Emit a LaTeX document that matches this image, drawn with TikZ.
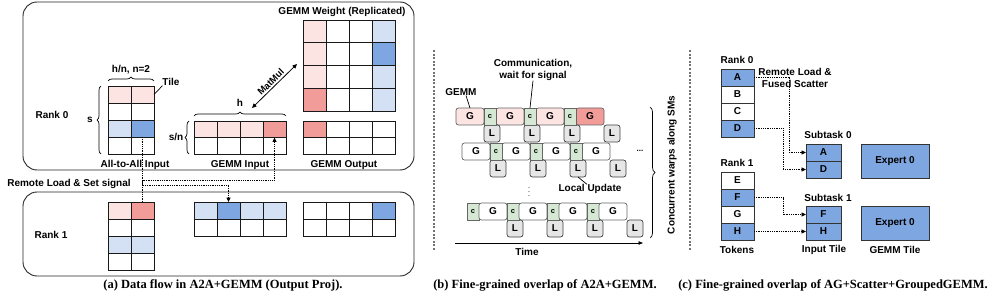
\documentclass[tikz,border=0pt]{standalone}
\usepackage{fontspec}
\setmainfont{Liberation Serif}
\setsansfont{Liberation Sans}
\usetikzlibrary{arrows.meta,decorations.pathreplacing}
\definecolor{pinkL}{HTML}{FCE4E3}
\definecolor{redM}{HTML}{F19C99}
\definecolor{blueL}{HTML}{D4E1F5}
\definecolor{blueM}{HTML}{7EA6E0}
\definecolor{greenL}{HTML}{D5E8D4}
\definecolor{grayL}{HTML}{E6E6E6}
\newcommand\setcf[2]{\expandafter\def\csname cf-#1\endcsname{#2}}
\tikzset{cf/.code={\ifcsname cf-#1\endcsname\edef\cftmp{\noexpand\pgfkeysalso{fill=\csname cf-#1\endcsname}}\cftmp\else\pgfkeysalso{fill=white}\fi}}
\newcommand\mkgrid[7]{%
  \foreach \r in {1,...,#5}{\foreach \c in {1,...,#4}{%
    \node[cell, minimum width=#6pt, minimum height=#7pt, cf={#1-\r-\c}] (#1-\r-\c) at ({#2+(\c-1)*#6},{#3+(\r-1)*#7}) {};
  }}}
% fills
\setcf{A0-1-1}{pinkL}\setcf{A0-1-2}{pinkL}\setcf{A0-3-1}{blueL}\setcf{A0-3-2}{blueM}
\setcf{I0-1-1}{pinkL}\setcf{I0-1-2}{pinkL}\setcf{I0-1-3}{pinkL}\setcf{I0-1-4}{redM}
\setcf{W-1-1}{pinkL}\setcf{W-2-1}{pinkL}\setcf{W-3-1}{pinkL}\setcf{W-4-1}{redM}
\setcf{W-1-4}{blueL}\setcf{W-2-4}{blueM}\setcf{W-3-4}{blueL}\setcf{W-4-4}{blueL}
\setcf{O0-1-1}{redM}
\setcf{A1-1-1}{pinkL}\setcf{A1-1-2}{redM}\setcf{A1-3-1}{blueL}\setcf{A1-3-2}{blueL}
\setcf{I1-1-1}{blueL}\setcf{I1-1-2}{blueM}\setcf{I1-1-3}{blueL}\setcf{I1-1-4}{blueL}
\setcf{O1-1-4}{blueM}
\begin{document}
\begin{tikzpicture}[x=1pt,y=-1pt,
  every node/.style={font=\sffamily\bfseries\fontsize{10}{12}\selectfont, inner sep=0pt, outer sep=0pt},
  cell/.style={draw=black!90, line width=0.7pt, anchor=north west},
  rankbox/.style={draw=black!85, line width=0.9pt, rounded corners=14pt, anchor=north west, minimum width=391pt},
  conn/.style={line width=0.8pt, dash pattern=on 0.9pt off 0.9pt, -{Triangle[length=4.5pt,width=4pt]}},
  dbl/.style={line width=0.8pt, {Triangle[length=4.5pt,width=4pt]}-{Triangle[length=4.5pt,width=4pt]}},
  brc/.style={decorate, decoration={brace, amplitude=4pt}, line width=0.7pt},
  gb/.style={draw=black!60, line width=0.7pt, rounded corners=2.5pt, minimum width=28pt, minimum height=17pt, anchor=north west},
  cb/.style={draw=black!60, line width=0.7pt, fill=greenL, minimum width=12pt, minimum height=17pt, anchor=north west, font=\sffamily\bfseries\fontsize{7.5}{9}\selectfont},
  lb/.style={draw=black!75, line width=0.7pt, fill=grayL, rounded corners=2.5pt, minimum width=16pt, minimum height=17pt, anchor=north west},
  tok/.style={draw=black!80, line width=0.7pt, minimum width=33pt, minimum height=17pt, anchor=north west},
  itile/.style={draw=black!80, line width=0.7pt, fill=blueM, minimum width=35pt, minimum height=17pt, anchor=north west},
  expert/.style={draw=black!80, line width=0.7pt, fill=blueM, minimum width=68pt, minimum height=34pt, anchor=north west},
  sepline/.style={draw=black!55, line width=1.6pt, dash pattern=on 2pt off 1.6pt},
  captxt/.style={font=\rmfamily\bfseries\fontsize{12.5}{14}\selectfont},
  lin/.style={line width=0.7pt}]
\useasboundingbox (0,0) rectangle (996,294);

%% ---------------- panel (a)
\node[rankbox, minimum height=168pt] (rank0box) at (23,2) {};
\node[rankbox, minimum height=84pt] (rank1box) at (23,192) {};
\node (r0lab) at (52,115) {Rank 0};
\node (r1lab) at (51,235) {Rank 1};

\mkgrid{A0}{108}{86}{2}{4}{23}{17}
\mkgrid{I0}{194}{121}{4}{2}{23}{16.5}
\mkgrid{W}{303}{20}{4}{4}{23}{22.75}
\mkgrid{O0}{303}{121}{4}{2}{23}{16.5}
\mkgrid{A1}{108}{202}{2}{4}{23}{17}
\mkgrid{I1}{194}{202}{4}{2}{23}{17}
\mkgrid{O1}{303}{202}{4}{2}{23}{17}

% braces
\draw[brc] ([yshift=5pt]A0-1-1.north west) -- ([yshift=5pt]A0-1-2.north east);
\node (hnlab) at (131,70) {h/n, n=2};
\draw[brc] ([xshift=-7pt]A0-4-1.south west) -- ([xshift=-7pt]A0-1-1.north west);
\node (slab) at (90,120) {s};
\draw[brc] ([xshift=-5pt]I0-2-1.south west) -- ([xshift=-5pt]I0-1-1.north west);
\node (snlab) at (176,137) {s/n};
\draw[brc] ([yshift=5pt]I0-1-1.north west) -- ([yshift=5pt]I0-1-4.north east);
\node (hlab) at (240,103) {h};

\node (tilelab) at (171,82) {Tile};
\draw[lin] (A0-1-2.east) -- (tilelab.south west);

\node (wlab) at (342,12) {GEMM Weight (Replicated)};
\node (a2alab) at (135,165) {All-to-All Input};
\node (ginlab) at (240,165) {GEMM Input};
\node (goutlab) at (344,165) {GEMM Output};

\coordinate (mmA) at (252,108);
\coordinate (mmB) at (297,64);
\draw[dbl] (mmA) -- node[sloped, above=2pt, font=\sffamily\bfseries\fontsize{9.5}{11}\selectfont] (mmlab) {MatMul} (mmB);

\draw[conn] (A0-3-2.south) -- ++(0,48) -| (I1-1-2.north);
\draw[conn] (A1-1-2.north) -- ++(0,-22) -| (I0-1-4.south);
\node (rlslab) at (69,184) {Remote Load \& Set signal};

\node[captxt] (capa) at (223,285) {(a) Data flow in A2A+GEMM (Output Proj).};

%% ---------------- panel (b)
\draw[sepline] (434,50) -- (434,250);
\draw[sepline] (690,50) -- (690,250);

\foreach \k in {1,...,4}{
  \ifnum\k=4 \def\gf{redM}\else\def\gf{pinkL}\fi
  \node[gb, fill=\gf] (g1-\k) at ({456+40*(\k-1)},108) {G};
  \node[lb] (l1-\k) at ({484+40*(\k-1)},125) {L};
  \node[gb, fill=white] (g2-\k) at ({462+40*(\k-1)},143) {G};
  \node[lb] (l2-\k) at ({490+40*(\k-1)},160) {L};
  \node[cb] (c3-\k) at ({467+40*(\k-1)},203) {c};
  \node[gb, fill=white] (g3-\k) at ({479+40*(\k-1)},203) {G};
  \node[lb] (l3-\k) at ({507+40*(\k-1)},220) {L};
}
\foreach \k in {1,...,3}{
  \node[cb] (c1-\k) at ({484+40*(\k-1)},108) {c};
  \node[cb] (c2-\k) at ({490+40*(\k-1)},143) {c};
}
\node (gemmlab) at (461,92) {GEMM};
\draw[lin] ([xshift=5pt]gemmlab.south) -- (g1-1.north);
\node[align=center] (commlab) at (533,70) {Communication,\\wait for signal};
\draw[lin] (commlab.south) -- (c1-2.north);
\node[font=\sffamily\bfseries\fontsize{8}{9}\selectfont] (dotsh) at (640,151) {...};
\node[font=\fontsize{8}{9}\selectfont] (dotsv) at (529,189) {$\vdots$};
\node (luplab) at (590,189) {Local Update};
\draw[lin] (l2-3.south) -- ([xshift=-3pt]luplab.north);

\coordinate (tA) at (455,243);
\coordinate (tB) at (643,243);
\draw[line width=0.8pt, -{Triangle[length=4.5pt,width=3.5pt]}] (tA) -- (tB);
\node (timelab) at (527,252) {Time};

\coordinate (bt) at (650,107);
\coordinate (bb) at (650,238);
\draw[brc, decoration={brace, amplitude=5pt}] (bt) -- (bb);
\node[rotate=90] (cwlab) at (672,165) {Concurrent warps along SMs};

\node[captxt] (capb) at (545,285) {(b) Fine-grained overlap of A2A+GEMM.};

%% ---------------- panel (c)
\node (rc0lab) at (737,60) {Rank 0};
\foreach \t/\f [count=\i] in {A/blueM,B/white,C/white,D/blueM}{
  \node[tok, fill=\f] (T0-\i) at (721,{69+17*(\i-1)}) {\t};
}
\node (rc1lab) at (737,163) {Rank 1};
\foreach \t/\f [count=\i] in {E/white,F/blueM,G/white,H/blueM}{
  \node[tok, fill=\f] (T1-\i) at (721,{172+17*(\i-1)}) {\t};
}
\node (toklab) at (737,250) {Tokens};

\node (st0lab) at (828,135) {Subtask 0};
\node[itile] (S0-1) at (806,144) {A};
\node[itile] (S0-2) at (806,161) {D};
\node[expert] (E0) at (861,144) {Expert 0};
\node (st1lab) at (828,198) {Subtask 1};
\node[itile] (S1-1) at (806,206) {F};
\node[itile] (S1-2) at (806,223) {H};
\node[expert] (E1) at (861,206) {Expert 0};
\node (itlab) at (824,250) {Input Tile};
\node (gtlab) at (895,250) {GEMM Tile};

\draw[conn] (T0-1.east) -- ++(35,0) |- (S0-1.west);
\draw[conn] (T0-4.east) -- ++(29,0) |- (S0-2.west);
\draw[conn] (T1-2.east) -- ++(29,0) |- (S1-1.west);
\draw[conn] (T1-4.east) -- (S1-2.west);
\node[align=center] (rlfslab) at (795,78) {Remote Load \&\\Fused Scatter};

\node[captxt] (capc) at (833,285) {(c) Fine-grained overlap of AG+Scatter+GroupedGEMM.};
\end{tikzpicture}
\end{document}
